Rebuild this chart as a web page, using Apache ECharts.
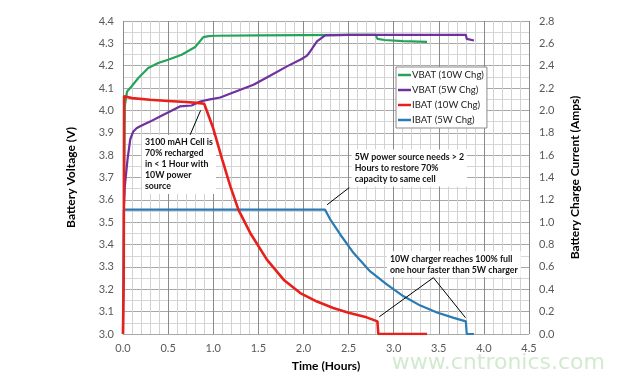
<!DOCTYPE html>
<html>
<head>
<meta charset="utf-8">
<script src="https://cdn.jsdelivr.net/npm/echarts@6/dist/echarts.min.js"></script>
<style>
html,body{margin:0;padding:0;background:#fff;}
#c{width:624px;height:381px;}
</style>
</head>
<body>
<div id="c"></div>
<script>
// ---- data (time in hours) ----
const seriesNames = ['VBAT (10W Chg)', 'VBAT (5W Chg)', 'IBAT (10W Chg)', 'IBAT (5W Chg)'];

const vbat10T = [0.012, 0.02, 0.045, 0.059, 0.096, 0.17, 0.28, 0.39, 0.50, 0.65, 0.80, 0.89, 0.95, 1.02, 1.5, 2.0, 2.5, 2.80, 2.82, 2.9, 3.1, 3.37];
const vbat10V = [3.62, 4.02, 4.085, 4.093, 4.108, 4.145, 4.19, 4.212, 4.227, 4.249, 4.284, 4.328, 4.332, 4.334, 4.336, 4.337, 4.338, 4.338, 4.32, 4.315, 4.31, 4.307];

const vbat5T = [0.012, 0.02, 0.05, 0.08, 0.114, 0.15, 0.19, 0.30, 0.41, 0.52, 0.63, 0.76, 0.855, 0.95, 1.077, 1.25, 1.446, 1.63, 1.817, 1.98, 2.04, 2.075, 2.15, 2.24, 2.5, 3.0, 3.5, 3.80, 3.81, 3.89];
const vbat5V = [3.58, 3.66, 3.78, 3.87, 3.906, 3.92, 3.929, 3.95, 3.973, 3.995, 4.018, 4.022, 4.04, 4.048, 4.058, 4.085, 4.115, 4.155, 4.197, 4.23, 4.245, 4.264, 4.309, 4.336, 4.338, 4.338, 4.338, 4.338, 4.32, 4.313];

const ibat10T = [0.0, 0.008, 0.012, 0.1, 0.3, 0.5, 0.7, 0.85, 0.9, 1.0, 1.1, 1.19, 1.28, 1.41, 1.595, 1.78, 1.965, 2.15, 2.33, 2.50, 2.70, 2.82, 2.83, 3.37];
const ibat10A = [0.0, 0.5, 2.126, 2.11, 2.095, 2.085, 2.075, 2.065, 2.06, 1.84, 1.56, 1.32, 1.11, 0.904, 0.665, 0.486, 0.366, 0.29, 0.233, 0.19, 0.149, 0.113, 0.0, 0.0];

const ibat5T = [0.0, 0.005, 0.01, 0.5, 1.0, 1.5, 2.0, 2.24, 2.30, 2.41, 2.556, 2.74, 2.927, 3.11, 3.296, 3.48, 3.666, 3.80, 3.81, 3.89];
const ibat5A = [0.0, 0.6, 1.112, 1.112, 1.112, 1.112, 1.112, 1.112, 1.02, 0.888, 0.724, 0.56, 0.441, 0.337, 0.254, 0.193, 0.144, 0.113, 0.0, 0.0];

// axis ranges; grid lines every minor step, labels every label step
const xAxisCfg = { min: 0, max: 4.5, minorStep: 0.1, labelStep: 0.5 };
const yLeftCfg = { min: 3.0, max: 4.4, minorStep: 0.05, labelStep: 0.1 };
const yRightCfg = { min: 0, max: 2.8, interval: 0.2 };

const notes = [
  { text: '3100 mAH Cell is\n70% recharged\nin < 1 Hour with\n10W power\nsource', at: [0.21, 3.89] },
  { text: '5W power source needs > 2\nHours to restore 70%\ncapacity to same cell', at: [2.535, 3.825] },
  { text: '10W charger reaches 100% full\none hour faster than 5W charger', at: [2.925, 3.37] }
];
// arrows in (hours, volts) data space: [from, to]
const arrows = [
  [[0.744, 3.891], [0.86, 4.0]],
  [[2.508, 3.655], [2.262, 3.578]],
  [[3.44, 3.252], [2.84, 3.077]],
  [[3.44, 3.252], [3.796, 3.073]]
];

const colors = ['#25a35a', '#7030a0', '#e8201a', '#2a7ab3'];
const zip = (a, b) => a.map((v, i) => [v, b[i]]);
const isMultiple = (v, step) => Math.abs(v / step - Math.round(v / step)) < 1e-6;

const chart = echarts.init(document.getElementById('c'));
const tickFont = { fontFamily: 'Lato', fontSize: 11, color: '#595959' };
const nameFont = { fontFamily: 'Lato', fontSize: 12, fontWeight: 'bold', color: '#000' };

const xCycle = Math.round(xAxisCfg.labelStep / xAxisCfg.minorStep);
const yCycle = Math.round(yLeftCfg.labelStep / yLeftCfg.minorStep);
const xLineColors = ['#8a8a8a'].concat(Array(xCycle - 1).fill('#d2d2d2'));
const yLineColors = ['#a8a8a8'].concat(Array(yCycle - 1).fill('#d6d6d6'));

chart.setOption({
  animation: false,
  color: colors,
  grid: { left: 123, right: 95, top: 21, bottom: 47, containLabel: false },
  legend: {
    orient: 'vertical',
    left: 396, top: 67,
    data: seriesNames,
    icon: 'rect',
    itemWidth: 13, itemHeight: 2.5,
    itemGap: 5,
    backgroundColor: '#fff',
    borderColor: '#8c8c8c', borderWidth: 1,
    padding: [3, 3, 3, 2],
    textStyle: { fontFamily: 'Lato', fontSize: 9.6, color: '#222', padding: [0, 0, 0, -4] }
  },
  xAxis: {
    type: 'value', min: xAxisCfg.min, max: xAxisCfg.max, interval: xAxisCfg.minorStep,
    name: 'Time (Hours)', nameLocation: 'middle', nameGap: 26, nameTextStyle: nameFont,
    axisLine: { show: false }, axisTick: { show: false },
    axisLabel: Object.assign({
      margin: 9, showMinLabel: true, showMaxLabel: true, hideOverlap: false,
      formatter: v => isMultiple(v, xAxisCfg.labelStep) ? v.toFixed(1) : ''
    }, tickFont),
    splitLine: { show: true, lineStyle: { color: xLineColors, width: 1 } }
  },
  yAxis: [
    {
      type: 'value', min: yLeftCfg.min, max: yLeftCfg.max, interval: yLeftCfg.minorStep,
      name: 'Battery Voltage (V)', nameLocation: 'middle', nameGap: 46, nameTextStyle: nameFont,
      axisLine: { show: false }, axisTick: { show: false },
      axisLabel: Object.assign({
        margin: 9,
        formatter: v => isMultiple(v, yLeftCfg.labelStep) ? v.toFixed(1) : ''
      }, tickFont),
      splitLine: { show: true, lineStyle: { color: yLineColors, width: 1 } }
    },
    {
      type: 'value', min: yRightCfg.min, max: yRightCfg.max, interval: yRightCfg.interval,
      name: 'Battery Charge Current (Amps)', nameLocation: 'middle', nameGap: 40, nameTextStyle: nameFont,
      axisLine: { show: false }, axisTick: { show: false },
      axisLabel: Object.assign({ margin: 10, formatter: v => v.toFixed(1) }, tickFont),
      splitLine: { show: false }
    }
  ],
  series: [
    {
      name: seriesNames[0], type: 'line', yAxisIndex: 0, showSymbol: false,
      lineStyle: { width: 2.2 }, data: zip(vbat10T, vbat10V), z: 3,
      markLine: {
        silent: true, symbol: ['none', 'arrow'], symbolSize: [0, 7],
        label: { show: false },
        lineStyle: { color: '#000', width: 1, type: 'solid' },
        data: arrows.map(a => [{ coord: a[0] }, { coord: a[1] }])
      }
    },
    { name: seriesNames[1], type: 'line', yAxisIndex: 0, showSymbol: false, lineStyle: { width: 2.2 }, data: zip(vbat5T, vbat5V), z: 3 },
    { name: seriesNames[2], type: 'line', yAxisIndex: 1, showSymbol: false, lineStyle: { width: 2.6 }, data: zip(ibat10T, ibat10A), z: 4 },
    { name: seriesNames[3], type: 'line', yAxisIndex: 1, showSymbol: false, lineStyle: { width: 2.2 }, data: zip(ibat5T, ibat5A), z: 3 }
  ]
});

const gfx = notes.map(n => {
  const p = chart.convertToPixel({ xAxisIndex: 0, yAxisIndex: 0 }, n.at);
  return {
    type: 'text', left: p[0], top: p[1], z: 1,
    style: {
      text: n.text, fontFamily: 'Lato', fontSize: 8.8, fontWeight: 'bold',
      lineHeight: 11, fill: '#111', backgroundColor: '#fff', padding: [2, 3, 2, 3]
    }
  };
});
gfx.push({
  type: 'text', right: 19, top: 352, z: 10,
  style: { text: 'www.cntronics.com', fontFamily: 'DejaVu Sans', fontSize: 22, fill: '#d3ead0' }
});
chart.setOption({ graphic: gfx });
</script>
</body>
</html>
